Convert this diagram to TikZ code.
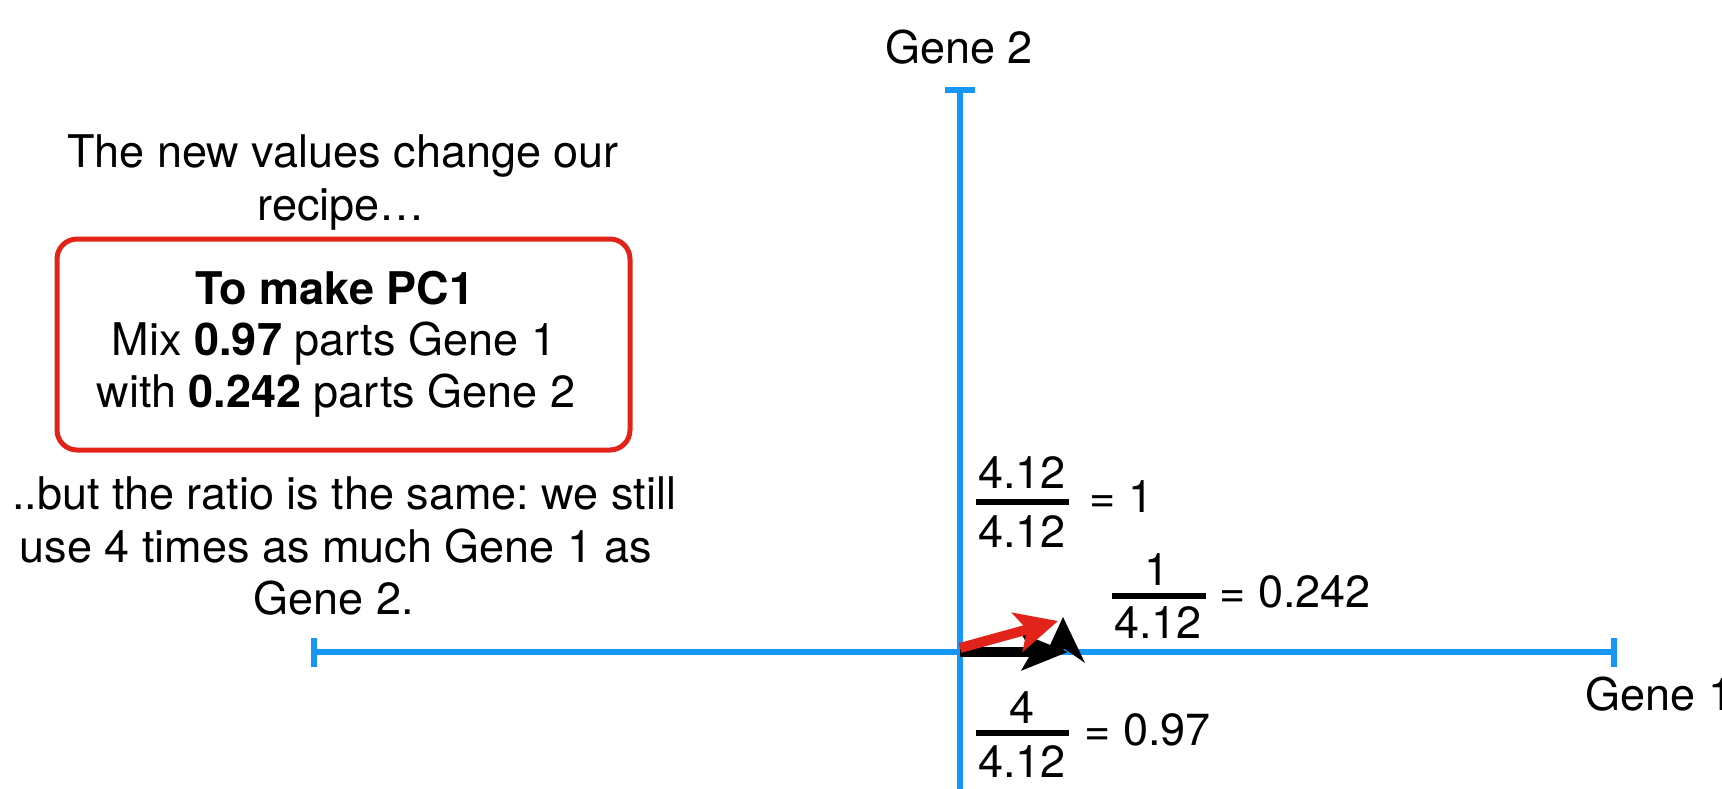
\documentclass[tikz,border=0pt]{standalone}
\usepackage{fontspec}
\setmainfont{TeX Gyre Heros}
\usetikzlibrary{arrows.meta}
\definecolor{axisblue}{RGB}{22,150,245}
\definecolor{boxred}{RGB}{226,35,26}
\frenchspacing
\begin{document}
\begin{tikzpicture}[x=0.5pt,y=-0.5pt,
  txt/.style={inner sep=0pt, font=\fontsize{22.5}{27}\selectfont, anchor=base},
  axisline/.style={draw=axisblue, line width=2.6pt},
  recipebox/.style={draw=boxred, line width=2.5pt, rounded corners=10pt, minimum width=286.5pt, minimum height=105.5pt, inner sep=0pt},
  fracbar/.style={draw=black, line width=3.3pt},
  blackvec/.style={draw=black, line width=5pt, -{Stealth[length=23pt,width=18pt,inset=5pt]}},
  redvec/.style={draw=boxred, line width=5pt, -{Stealth[length=21pt,width=20pt,inset=5pt]}}]
\useasboundingbox (0,0) rectangle (1722,788);
% axes
\coordinate (xl) at (314,652);
\coordinate (xr) at (1614,652);
\coordinate (yt) at (960,89);
\coordinate (yb) at (960,792);
\draw[axisline] (xl) -- (xr);
\draw[axisline] (yt) -- (yb);
\draw[axisline] (314,638) -- (314,667);
\draw[axisline] (1614,638) -- (1614,667);
\draw[axisline] (945,90) -- (975,90);
\node[txt] (g2) at (959,63) {Gene 2};
\node[txt, anchor=base west] (g1) at (1585,710) {Gene 1};
% left texts
\node[txt] (t1) at (343,167) {The new values change our};
\node[txt] (t2) at (341,220) {recipe…};
\node[recipebox] (box) at (343.5,344.5) {};
\node[txt] (b1) at (335,304) {\textbf{To make PC1}};
\node[txt] (b2) at (334,355) {Mix \textbf{0.97} parts Gene 1};
\node[txt] (b3) at (336,407) {with \textbf{0.242} parts Gene 2};
\node[txt] (u1) at (344,509) {..but the ratio is the same: we still};
\node[txt] (u2) at (336,562) {use 4 times as much Gene 1 as};
\node[txt] (u3) at (334,614) {Gene 2.};
% fractions
\node[txt] (n1) at (1022,488) {4.12};
\node[txt] (d1) at (1022,547) {4.12};
\draw[fracbar] (976,502) -- (1069,502);
\node[txt, anchor=base west] (e1) at (1089,512) {= 1};
\node[txt] (n2) at (1157,585) {1};
\node[txt] (d2) at (1158,638) {4.12};
\draw[fracbar] (1112,596) -- (1206,596);
\node[txt, anchor=base west] (e2) at (1219,607) {= 0.242};
\node[txt] (n3) at (1022,723) {4};
\node[txt] (d3) at (1022,777) {4.12};
\draw[fracbar] (976,733) -- (1069,733);
\node[txt, anchor=base west] (e3) at (1084,745) {= 0.97};
% vectors
\coordinate (O) at (960,652);
\coordinate (Bt) at (1068,652);
\coordinate (Ro) at (960,648);
\coordinate (Rt) at (1058,621);
\draw[blackvec] (O) -- (Bt);
\draw[redvec] (Ro) -- (Rt);
\fill[black] (1063,617) -- (1085,663) -- (1065,649) -- (1045,656) -- cycle;
\end{tikzpicture}
\end{document}
